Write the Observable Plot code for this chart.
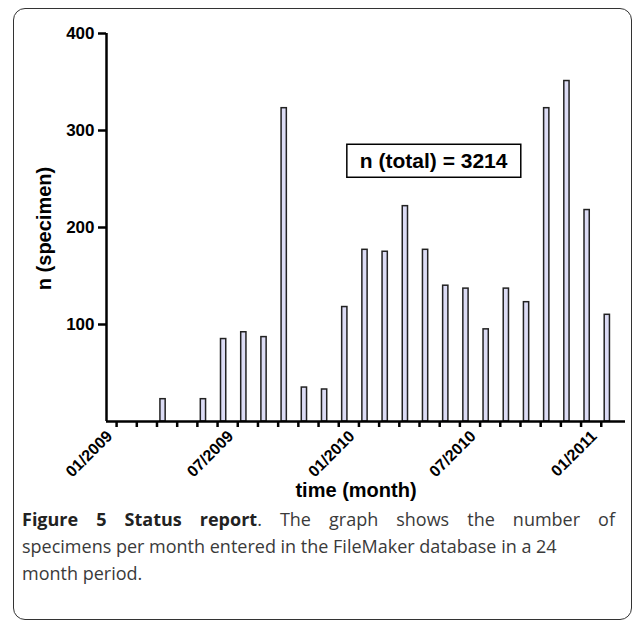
<!DOCTYPE html>
<html><head><meta charset="utf-8">
<script src="https://cdn.jsdelivr.net/npm/d3@7"></script>
<script src="https://cdn.jsdelivr.net/npm/@observablehq/plot@0.6"></script>
<style>
body{margin:0;background:#fff;width:635px;height:623px;overflow:hidden;position:relative;font-family:"Liberation Sans",Arial,sans-serif}
#frame{position:absolute;left:13px;top:8px;width:619px;height:612px;border:1.6px solid #333;border-radius:12px;box-sizing:border-box}
#chart{position:absolute;left:0;top:0}
#caption{position:absolute;left:22px;top:506px;width:593px;font-family:"Open Sans",sans-serif;font-size:18px;line-height:27px;color:#3a3a3a}
#caption b{color:#222}
.l1{text-align:justify;text-align-last:justify;white-space:nowrap}
</style></head><body>
<div id="frame"></div>
<div id="chart"></div>
<div id="caption"><div class="l1"><b>Figure 5 Status report</b>. The graph shows the number of</div><div>specimens per month entered in the FileMaker database in a 24</div><div>month period.</div></div>
<script>
const months = ["01/2009","02/2009","03/2009","04/2009","05/2009","06/2009","07/2009","08/2009","09/2009","10/2009","11/2009","12/2009",
  "01/2010","02/2010","03/2010","04/2010","05/2010","06/2010","07/2010","08/2010","09/2010","10/2010","11/2010","12/2010","01/2011"];
const counts = [0,0,23,0,23,85,92,87,323,35,33,118,177,175,222,177,140,137,95,137,123,323,351,218,110];
const labelledMonths = ["01/2009","07/2009","01/2010","07/2010","01/2011"];
const yTicks = [100,200,300,400];
const yLabel = "n (specimen)";
const xLabel = "time (month)";
const annText = "n (total) = 3214";
const annPos = {x: 15.7, y: 268};

const data = months.map((m,i)=>({i, month:m, n:counts[i]})).filter(d=>d.n>0);
const labelData = months.map((m,i)=>({i, month:m})).filter(d=>labelledMonths.includes(d.month));
const chart = Plot.plot({
  width:635, height:510, marginLeft:106, marginRight:10, marginTop:33, marginBottom:89,
  style:{fontFamily:"'Liberation Sans', Arial, sans-serif", fontWeight:"bold", color:"#000", background:"transparent", overflow:"visible"},
  x:{type:"linear", domain:[-0.5,25.2]},
  y:{domain:[0,400]},
  marks:[
    Plot.rectY(data,{x1:d=>d.i+0.17, x2:d=>d.i+0.43, y:"n", fill:"#dcdcf5", stroke:"#222", strokeWidth:1.5}),
    Plot.ruleY([0],{strokeWidth:2.5, stroke:"#000"}),
    Plot.ruleX([-0.5],{y1:0, y2:400, strokeWidth:2.5, stroke:"#000"}),
    Plot.axisY({ticks:yTicks, tickSize:8, tickPadding:4, fontSize:17, label:null, strokeWidth:2.5}),
    Plot.axisX({ticks:d3.range(months.length), tickFormat:() => "", tickSize:6, label:null, strokeWidth:2.5}),
    Plot.text(labelData,{x:"i", text:"month", frameAnchor:"bottom", rotate:-45, textAnchor:"end", lineAnchor:"middle", dx:-7, dy:12, fontSize:16}),
    Plot.text([yLabel],{frameAnchor:"left", textAnchor:"middle", rotate:-90, dx:-62, dy:1, fontSize:20}),
    Plot.text([xLabel],{frameAnchor:"bottom", dy:75, dx:-10, fontSize:20}),
    Plot.text([annText],{x:annPos.x, y:annPos.y, fontSize:21, letterSpacing:"0.4px"})
  ]
});
document.getElementById("chart").appendChild(chart);
const sr = chart.getBoundingClientRect();
for (const t of chart.querySelectorAll("text")) {
  if (t.textContent === annText) {
    const b = t.getBoundingClientRect();
    const r = document.createElementNS("http://www.w3.org/2000/svg","rect");
    r.setAttribute("x", b.left - sr.left - 13); r.setAttribute("y", b.top - sr.top - 5);
    r.setAttribute("width", b.width + 26); r.setAttribute("height", b.height + 10);
    r.setAttribute("fill", "#fff"); r.setAttribute("stroke", "#000"); r.setAttribute("stroke-width", 1.5);
    let g = t; while (g.parentNode !== chart) g = g.parentNode;
    chart.insertBefore(r, g);
  }
}
</script>
</body></html>
